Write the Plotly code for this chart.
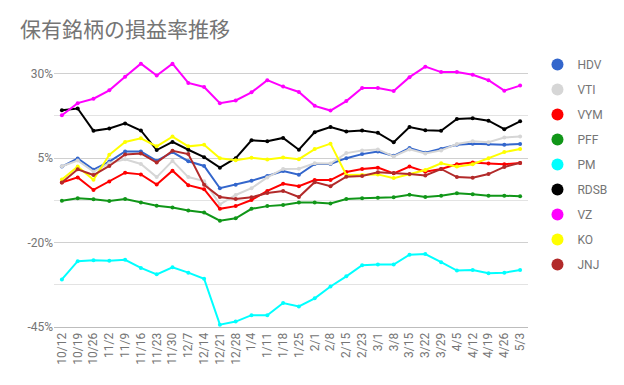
import plotly.graph_objects as go

dates = ["10/12", "10/19", "10/26", "11/2", "11/9", "11/16", "11/23", "11/30", "12/7", "12/14",
         "12/21", "12/28", "1/4", "1/11", "1/18", "1/25", "2/1", "2/8", "2/15", "2/23",
         "3/1", "3/8", "3/15", "3/22", "3/29", "4/5", "4/12", "4/19", "4/26", "5/3"]

hdv = [2.5, 4.9, 1.6, 4.0, 7.0, 7.0, 4.2, 6.8, 4.1, 2.7, -3.9, -2.9, -1.7, -0.3, 1.2, 0.1, 3.3, 3.3, 5.0, 6.2, 7.0, 5.7, 8.0, 6.6, 7.7, 9.0, 9.3, 9.2, 9.0, 9.2]
vti = [2.6, 4.3, 1.0, 3.5, 4.7, 3.3, -0.6, 4.2, -0.6, -1.8, -8.7, -5.9, -3.9, -0.7, 1.8, 1.9, 3.5, 3.4, 6.5, 7.3, 7.6, 5.5, 7.6, 6.4, 7.3, 9.2, 10.0, 9.7, 11.1, 11.4]
vym = [-2.2, -0.7, -4.4, -1.9, 0.7, 0.2, -2.8, 1.3, -3.0, -4.2, -10.0, -9.2, -7.4, -4.7, -2.6, -3.3, -1.5, -1.5, 0.9, 1.8, 2.2, 0.5, 2.5, 1.0, 1.8, 3.2, 3.7, 3.4, 3.2, 3.6]
pff = [-7.6, -6.9, -7.2, -7.7, -7.1, -8.1, -9.1, -9.6, -10.5, -11.1, -13.5, -12.8, -10.0, -9.2, -8.9, -8.1, -8.1, -8.4, -7.1, -6.9, -6.7, -6.6, -5.8, -6.5, -6.1, -5.4, -5.7, -6.1, -6.1, -6.3]
pm = [-30.9, -25.5, -25.2, -25.4, -25.1, -27.5, -29.4, -27.3, -28.9, -30.7, -44.3, -43.4, -41.5, -41.5, -37.9, -38.9, -36.5, -33.0, -30.0, -26.7, -26.5, -26.5, -23.6, -23.4, -25.8, -28.3, -28.1, -29.1, -28.9, -28.1]
rdsb = [19.2, 19.7, 13.1, 13.8, 15.3, 13.2, 7.4, 9.8, 7.5, 5.3, 2.2, 5.0, 10.3, 10.0, 11.0, 7.5, 12.7, 14.2, 12.9, 13.2, 12.5, 9.7, 14.2, 13.3, 13.1, 16.6, 16.8, 16.1, 13.6, 15.9]
vz = [17.7, 21.3, 22.6, 25.1, 29.1, 33.0, 29.5, 33.0, 27.3, 26.1, 21.3, 22.1, 24.5, 28.1, 26.2, 24.6, 20.5, 19.1, 21.9, 25.8, 25.8, 24.9, 29.0, 32.1, 30.5, 30.5, 29.7, 28.1, 25.0, 26.5]
ko = [-1.3, 2.5, -1.4, 6.0, 9.8, 10.9, 8.5, 11.4, 8.5, 9.0, 5.0, 4.4, 5.1, 4.6, 5.2, 4.7, 7.7, 9.3, 0.0, 0.0, 0.2, -0.9, 0.2, 1.5, 3.5, 2.5, 3.2, 5.0, 6.8, 7.7]
jnj = [-2.2, 1.7, 0.0, 2.7, 6.1, 6.4, 3.7, 7.2, 6.2, -2.9, -6.5, -7.1, -6.6, -5.3, -4.7, -6.5, -2.1, -3.3, -0.5, -0.3, 0.8, 0.6, 0.3, -0.1, 1.8, -0.6, -0.8, 0.3, 2.4, 3.6]

names = ["HDV", "VTI", "VYM", "PFF", "PM", "RDSB", "VZ", "KO", "JNJ"]
series = [hdv, vti, vym, pff, pm, rdsb, vz, ko, jnj]
colors = ["#3366cc", "#d6d6d6", "#ff0000", "#109618", "#00ffff", "#000000", "#ff00ff", "#ffff00", "#b22a2a"]

y_ticks = [-45, -20, 5, 30]
y_labels = ["-45%", "-20%", "5%", "30%"]

fig = go.Figure()
for name, vals, col in zip(names, series, colors):
    fig.add_trace(go.Scatter(
        x=dates, y=vals, name=name, mode="lines+markers",
        line=dict(color=col, width=2), marker=dict(color=col, size=4),
        showlegend=False, legendgroup=name))
for name, col in zip(names, colors):
    fig.add_trace(go.Scatter(
        x=[None], y=[None], name=name, mode="markers",
        marker=dict(color=col, size=13), legendgroup=name, showlegend=True))

fig.update_layout(
    width=616, height=377,
    margin=dict(l=46, r=87, t=32, b=58),
    paper_bgcolor="white", plot_bgcolor="white",
    font=dict(family="Roboto, Noto Sans CJK JP", size=12, color="#757575"),
    title=dict(text="保有銘柄の損益率推移", xref="container", x=12 / 616, xanchor="left",
               yref="container", y=1 - 22 / 377, yanchor="middle",
               font=dict(family="Noto Sans CJK JP", size=21, color="#757575")),
    legend=dict(x=1.02, xanchor="left", y=0.965, yanchor="top",
                font=dict(size=12, color="#757575"), traceorder="grouped",
                tracegroupgap=6, itemsizing="constant"),
    xaxis=dict(type="category", range=[-0.5, len(dates) - 0.5], tickangle=-90,
               showgrid=False, showline=True, linecolor="#bdbdbd", ticks="",
               tickfont=dict(size=12, color="#757575")),
    yaxis=dict(range=[-45, 40], tickvals=y_ticks, ticktext=y_labels,
               showgrid=True, gridcolor="#d0d0d0", zeroline=False, ticks="",
               tickfont=dict(size=12, color="#757575"),
               minor=dict(tick0=-45, dtick=12.5, showgrid=True, gridcolor="#e3e3e3")),
    hovermode=False,
)

fig.write_html("out.html")
